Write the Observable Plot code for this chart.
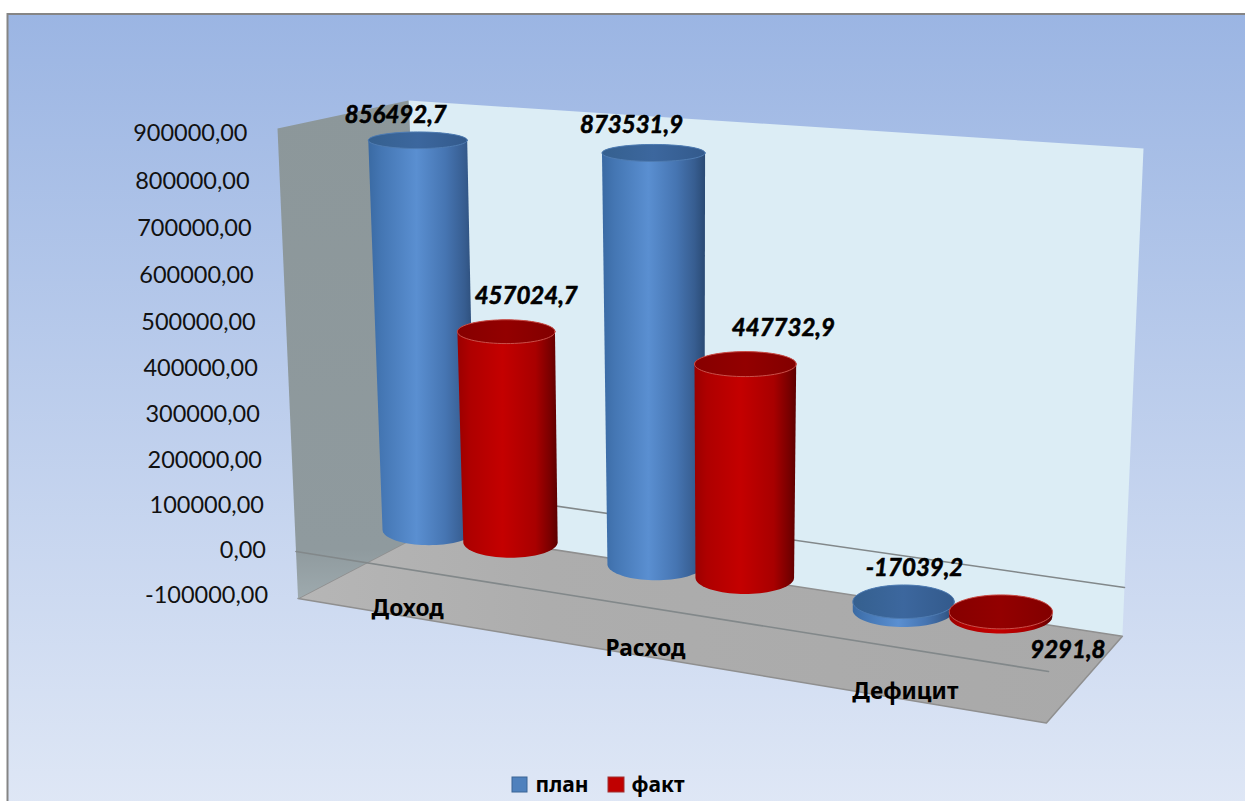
<!DOCTYPE html>
<html><head><meta charset="utf-8">
<script src="https://cdn.jsdelivr.net/npm/d3@7"></script>
<script src="https://cdn.jsdelivr.net/npm/@observablehq/plot@0.6"></script>
<style>html,body{margin:0;padding:0;background:#fff;overflow:hidden}svg{display:block}</style>
</head><body>
<script>
// ---- data ----
const categories = ["Доход", "Расход", "Дефицит"];
const seriesNames = ["план", "факт"];
const plan = [856492.7, 873531.9, -17039.2];
const fact = [457024.7, 447732.9, 9291.8];
const axisTicks = [900000, 800000, 700000, 600000, 500000, 400000, 300000, 200000, 100000, 0, -100000];

// ---- 3D frame: where the zero plane and the 900000 plane of the box fall ----
const zeroPlane = {fl:[295.5,551], bl:[426,487], br:[1124,587], fr:[1048,671]};
const topPlane  = {fl:[277,128],   bl:[408,100], br:[1143,148], fr:[1067,208]};
const G = 1.141;                       // perspective compression along the category axis
const persp = s => s / (s + (1 - s) * G);
const lerp = (a, b, t) => a + (b - a) * t;
function corner(pl, f, w, i) {
  return lerp(lerp(pl.fl[i], pl.fr[i], f), lerp(pl.bl[i], pl.br[i], f), w);
}
function P(f, w, v) {
  const a = v / 900000;
  return [lerp(corner(zeroPlane,f,w,0), corner(topPlane,f,w,0), a),
          lerp(corner(zeroPlane,f,w,1), corner(topPlane,f,w,1), a)];
}
// pixel row -> position on the value axis, so that every mark passes through Plot's y scale
const yUnit = d3.scaleLinear().domain([595,133]).range([-100000,900000]);
const pt = ([x,y]) => ({x, y: yUnit(y)});
const poly = (...a) => a.map(pt);
const fontNum = "Lato, 'Noto Sans', sans-serif";
const fontCat = "'Noto Sans', Lato, sans-serif";
const fmt1 = v => v.toFixed(1).replace(".", ",");
const fmt2 = v => v.toFixed(2).replace(".", ",");

const vMin = -100000, vTop = 900000;
const backWall = poly(P(0,1,vMin), P(1,1,vMin), P(1,1,vTop), P(0,1,vTop));
const leftWall = poly(P(0,0,vMin), P(0,1,vMin), P(0,1,vTop), P(0,0,vTop));
const floor    = poly(P(0,0,vMin), P(1,0,vMin), P(1,1,vMin), P(0,1,vMin));
const frontZero = poly(P(0,0,0), P(1,0,0));
const backZero  = poly(P(0,1,0), P(1,1,0));

function ellipsePts(c, rx, ry, from, to, n = 40) {
  return d3.range(n + 1).map(i => {
    const a = from + (to - from) * i / n;
    return [c[0] + rx * Math.cos(a), c[1] + ry * Math.sin(a)];
  });
}
const radius = (f, v) => 45.5 + 6.5 * f + 3.5 * (v + 100000) / 1e6;
const squash = v => 0.35 - 0.19 * (v + 100000) / 1e6;
const leanKeep = 0.8;   // the cylinders lean a little less than the walls

const cylinders = [];
categories.forEach((c, i) => {
  [plan[i], fact[i]].forEach((v, j) => {
    const s = (i + 0.5) / 3 + (j === 0 ? -0.0615 : 0.0615);
    const f = persp(s);
    const hi = Math.max(v, 0), lo = Math.min(v, 0);
    const T0 = P(f, .5, hi), B = P(f, .5, lo);
    const T = [B[0] + (T0[0] - B[0]) * leanKeep, T0[1]];
    const rT = radius(f, hi), rB = radius(f, lo);
    const body = [...ellipsePts(B, rB, rB * squash(lo), Math.PI, 0), ...ellipsePts(T, rT, rT * squash(hi), 0, -Math.PI)];
    const cap = ellipsePts(T, rT, rT * squash(hi), 0, 2 * Math.PI, 72);
    cylinders.push({series: j, value: v, T, body: body.map(pt), cap: cap.map(pt)});
  });
});

const style = [
  {body:"url(#gBlue)", cap:"url(#gBlueTop)", rim:"#4f7cb2"},
  {body:"url(#gRed)",  cap:"url(#gRedTop)",  rim:"#c9504a"}
];
// shift of each value label from the top of its cylinder
const labelShift = [[-22,-25],[20,-35],[-22,-28],[38,-36],[11,-33],[67,38]];
// the axis labels are spaced slightly wider at the top of the leaning wall
const tickRow = v => { const a = (v + 100000) / 1e6; return 595 - 462 * a + 16 * a * (1 - a); };

function defs() {
  const d = d3.create("svg:defs");
  const grad = (id, stops, vertical) => {
    const g = d.append("linearGradient").attr("id", id)
      .attr("x1",0).attr("y1",0).attr("x2",vertical?0:1).attr("y2",vertical?1:0);
    stops.forEach(([o,c]) => g.append("stop").attr("offset",o).attr("stop-color",c));
  };
  grad("gBg", [[0,"#9bb5e3"],[1,"#e0e8f6"]], true);
  grad("gLeft", [[0,"#8c979a"],[0.9,"#8f9a9e"],[1,"#9eaaae"]], true);
  grad("gFloor", [[0,"#b6b6b6"],[0.3,"#adadad"],[1,"#a9a9a9"]]);
  grad("gBlue", [[0,"#3a6aa3"],[0.12,"#4476b3"],[0.45,"#5a8fd1"],[0.72,"#4675b2"],[0.9,"#375d90"],[1,"#2a4a74"]]);
  grad("gBlueTop", [[0,"#35608f"],[0.5,"#3c679e"],[1,"#335a8c"]]);
  grad("gRed", [[0,"#9a0000"],[0.12,"#ae0000"],[0.45,"#c40000"],[0.78,"#a80000"],[0.93,"#780000"],[1,"#5c0000"]]);
  grad("gRedTop", [[0,"#860000"],[0.5,"#930000"],[1,"#820000"]]);
  return d.node();
}
const shape = (data, opt) => Plot.line(data, {x:"x", y:"y", curve:"linear-closed", ...opt});

const marks = [
  defs,
  Plot.rect([{}], {x1:()=>7.5, x2:()=>1265, y1:()=>yUnit(14), y2:()=>yUnit(820), fill:"url(#gBg)", stroke:"#858585", strokeWidth:2}),
  shape(backWall, {fill:"#dcedf5"}),
  shape(floor, {fill:"url(#gFloor)", stroke:"#8f8f8f", strokeWidth:1.5}),
  shape(leftWall, {fill:"url(#gLeft)"}),
  Plot.line(frontZero, {x:"x", y:"y", stroke:"#82888a", strokeWidth:1.6}),
  Plot.line(backZero, {x:"x", y:"y", stroke:"#82888a", strokeWidth:1.6}),
  ...cylinders.flatMap(c => [
    shape(c.body, {fill: style[c.series].body}),
    shape(c.cap, {fill: style[c.series].cap, stroke: style[c.series].rim, strokeWidth: 1})
  ]),
  // value axis, following the leaning front edge of the wall
  Plot.text(axisTicks, {
    x: v => P(0,0,v)[0] - 30, y: v => yUnit(tickRow(v)), text: fmt2, textAnchor:"end",
    fontFamily:fontNum, fontSize:23.5, fill:"#111"
  }),
  // category names
  ...categories.map((c,i) => Plot.text([c], {
    x: () => P(persp((i+.5)/3),0,vMin)[0] - 2, y: () => yUnit(P(persp((i+.5)/3),0,vMin)[1]), text: d => d,
    dy:-8, fontFamily:fontCat, fontWeight:700, fontSize:22.7, fill:"#000"
  })),
  // value labels
  ...cylinders.map((c,i) => Plot.text([c], {
    x: d => d.T[0], y: d => yUnit(d.T[1]), text: d => fmt1(d.value),
    dx: labelShift[i][0], dy: labelShift[i][1],
    fontFamily:fontNum, fontWeight:700, fontStyle:"italic", fontSize:24, fill:"#000",
    stroke:"#000", strokeWidth:0.6
  })),
  // legend
  ...seriesNames.map((n,j) => Plot.rect([n], {
    x1: () => [512,608][j], x2: () => [527,624][j], y1: () => yUnit(777), y2: () => yUnit(792),
    fill: ["#4f81bd","#c00000"][j], stroke: ["#3a6496","#a03030"][j], strokeWidth:1
  })),
  ...seriesNames.map((n,j) => Plot.text([n], {
    x: () => [535,631][j], y: () => yUnit(785), text: d => d, textAnchor:"start",
    fontFamily:fontCat, fontWeight:700, fontSize:21, fill:"#000"
  }))
];

document.body.appendChild(Plot.plot({
  width:1245, height:801, margin:0,
  style:{background:"transparent", overflow:"hidden"},
  x:{domain:[0,1245], range:[0,1245], axis:null},
  y:{domain:[-100000,900000], range:[595,133], axis:null},
  marks
}));
</script>
</body></html>
